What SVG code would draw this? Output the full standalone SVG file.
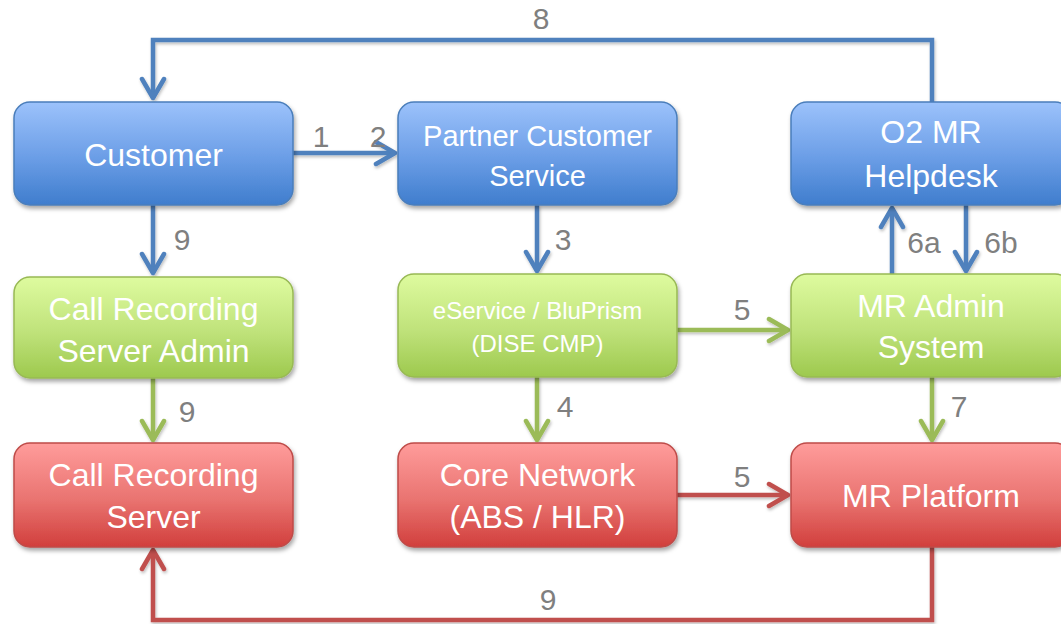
<svg xmlns="http://www.w3.org/2000/svg" width="1061" height="624" viewBox="0 0 1061 624">
<defs>
<linearGradient id="gb" x1="0" y1="0" x2="0" y2="1">
<stop offset="0" stop-color="#9cc2fb"/><stop offset="0.55" stop-color="#6a9de6"/><stop offset="1" stop-color="#3f7dcd"/>
</linearGradient>
<linearGradient id="gg" x1="0" y1="0" x2="0" y2="1">
<stop offset="0" stop-color="#defb9f"/><stop offset="0.55" stop-color="#bfe27a"/><stop offset="1" stop-color="#9dc94e"/>
</linearGradient>
<linearGradient id="gr" x1="0" y1="0" x2="0" y2="1">
<stop offset="0" stop-color="#ff9c9b"/><stop offset="0.55" stop-color="#e97370"/><stop offset="1" stop-color="#d13f3c"/>
</linearGradient>
<filter id="sh" x="-10%" y="-10%" width="130%" height="140%">
<feDropShadow dx="1.5" dy="3" stdDeviation="2.2" flood-color="#000" flood-opacity="0.35"/>
</filter>
<filter id="lsh" filterUnits="userSpaceOnUse" x="0" y="0" width="1061" height="624">
<feDropShadow dx="1" dy="2" stdDeviation="1.5" flood-color="#000" flood-opacity="0.25"/>
</filter>
<marker id="ab" markerUnits="userSpaceOnUse" viewBox="-24 -14 28 28" refX="0" refY="0" markerWidth="28" markerHeight="28" orient="auto">
<path d="M-19,-11 L0,0 L-19,11" fill="none" stroke="#4f81bd" stroke-width="4.5" stroke-linecap="round" stroke-linejoin="round"/>
</marker>
<marker id="ag" markerUnits="userSpaceOnUse" viewBox="-24 -14 28 28" refX="0" refY="0" markerWidth="28" markerHeight="28" orient="auto">
<path d="M-19,-11 L0,0 L-19,11" fill="none" stroke="#9bbb59" stroke-width="4.5" stroke-linecap="round" stroke-linejoin="round"/>
</marker>
<marker id="ar" markerUnits="userSpaceOnUse" viewBox="-24 -14 28 28" refX="0" refY="0" markerWidth="28" markerHeight="28" orient="auto">
<path d="M-19,-11 L0,0 L-19,11" fill="none" stroke="#c0504d" stroke-width="4.5" stroke-linecap="round" stroke-linejoin="round"/>
</marker>
</defs>
<style>
.box{stroke-width:1.5;filter:url(#sh)}
.b{fill:url(#gb);stroke:#4a7ebb}
.g{fill:url(#gg);stroke:#98b954}
.r{fill:url(#gr);stroke:#be4b48}
.t{font-family:"Liberation Sans",Arial,sans-serif;font-size:32px;fill:#ffffff;text-anchor:middle}
.ts{font-size:24px}
.tm{font-size:29px}
.c{fill:none;stroke-width:4.5;stroke-linejoin:miter;filter:url(#lsh)}
.cb{stroke:#4f81bd;marker-end:url(#ab)}
.cg{stroke:#9bbb59;marker-end:url(#ag)}
.cr{stroke:#c0504d;marker-end:url(#ar)}
.l{font-family:"Liberation Sans",Arial,sans-serif;font-size:30px;fill:#7f7f7f;text-anchor:middle}
</style>
<rect width="1061" height="624" fill="#ffffff"/>
<g id="connectors">
<path class="c cb" d="M932,102 V40 H153 V98"/>
<path class="c cb" d="M293,153 H395"/>
<path class="c cb" d="M153,205 V273"/>
<path class="c cb" d="M537,205 V271"/>
<path class="c cb" d="M892,274 V208"/>
<path class="c cb" d="M966,205 V271"/>
<path class="c cg" d="M677,330 H788"/>
<path class="c cg" d="M153,378 V440"/>
<path class="c cg" d="M537,377 V440"/>
<path class="c cg" d="M932,377 V440"/>
<path class="c cr" d="M677,495 H788"/>
<path class="c cr" d="M932,547 V620 H153 V550"/>
<text class="l" x="541" y="29">8</text>
<text class="l" x="321" y="147">1</text>
<text class="l" x="378" y="147">2</text>
<text class="l" x="182" y="250">9</text>
<text class="l" x="563" y="250">3</text>
<text class="l" x="924" y="253">6a</text>
<text class="l" x="1001" y="253">6b</text>
<text class="l" x="742" y="320">5</text>
<text class="l" x="187" y="422">9</text>
<text class="l" x="565" y="417">4</text>
<text class="l" x="959" y="417">7</text>
<text class="l" x="742" y="487">5</text>
<text class="l" x="548" y="610">9</text>
</g>
<g id="customer">
<rect class="box b" x="14" y="102" width="279" height="103" rx="16"/>
<text class="t" x="153.5" y="166">Customer</text>
</g>
<g id="partner-customer-service">
<rect class="box b" x="398" y="102" width="279" height="103" rx="16"/>
<text class="t tm" x="537.5" y="146">Partner Customer</text>
<text class="t tm" x="537.5" y="186">Service</text>
</g>
<g id="o2-mr-helpdesk">
<rect class="box b" x="791" y="102" width="280" height="103" rx="16"/>
<text class="t" x="931" y="143">O2 MR</text>
<text class="t" x="931" y="187">Helpdesk</text>
</g>
<g id="call-recording-server-admin">
<rect class="box g" x="14" y="277" width="279" height="101" rx="16"/>
<text class="t" x="153.5" y="320">Call Recording</text>
<text class="t" x="153.5" y="362">Server Admin</text>
</g>
<g id="eservice-bluprism">
<rect class="box g" x="398" y="274" width="279" height="103" rx="16"/>
<text class="t ts" x="537.5" y="319">eService / BluPrism</text>
<text class="t ts" x="537.5" y="352">(DISE CMP)</text>
</g>
<g id="mr-admin-system">
<rect class="box g" x="791" y="274" width="280" height="103" rx="16"/>
<text class="t" x="931" y="317">MR Admin</text>
<text class="t" x="931" y="358">System</text>
</g>
<g id="call-recording-server">
<rect class="box r" x="14" y="443" width="279" height="104" rx="16"/>
<text class="t" x="153.5" y="486">Call Recording</text>
<text class="t" x="153.5" y="528">Server</text>
</g>
<g id="core-network">
<rect class="box r" x="398" y="443" width="279" height="104" rx="16"/>
<text class="t" x="537.5" y="486">Core Network</text>
<text class="t" x="537.5" y="528">(ABS / HLR)</text>
</g>
<g id="mr-platform">
<rect class="box r" x="791" y="443" width="280" height="104" rx="16"/>
<text class="t" x="931" y="507">MR Platform</text>
</g>
</svg>
